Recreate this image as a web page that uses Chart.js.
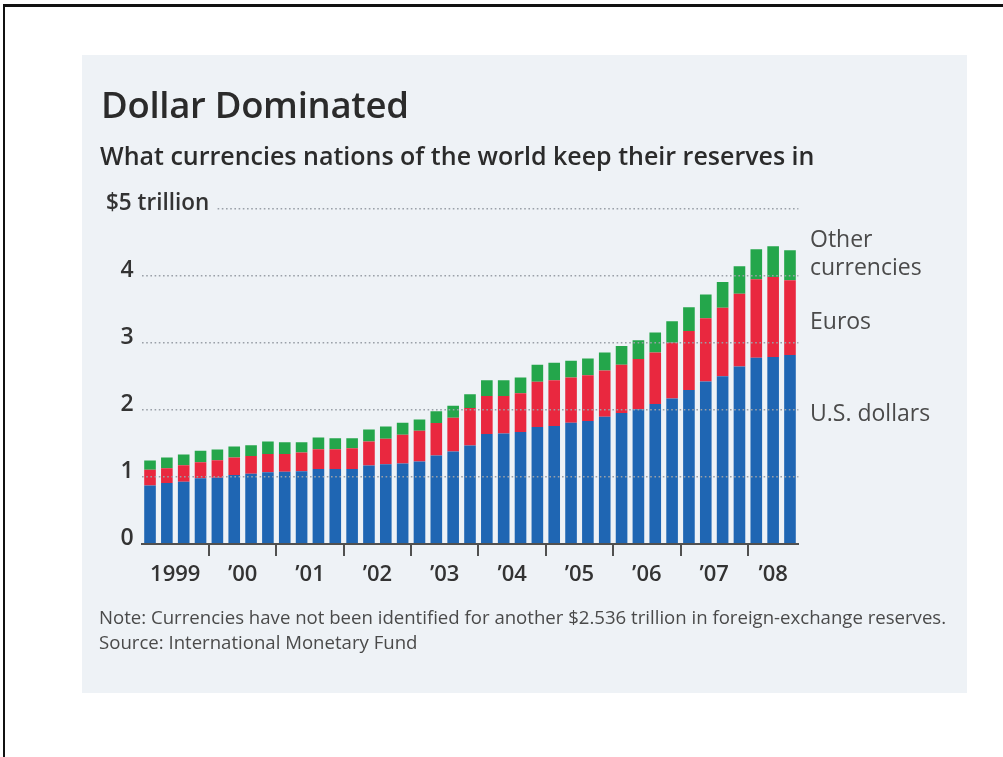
<!DOCTYPE html>
<html>
<head>
<meta charset="utf-8">
<script src="https://cdn.jsdelivr.net/npm/chart.js@4"></script>
<style>
  body { margin: 0; width: 1003px; height: 757px; background: #fff; position: relative; overflow: hidden; font-family: "Open Sans", sans-serif; }
  #frame { position: absolute; left: 3px; top: 4px; width: 1100px; height: 800px; border-top: 3px solid #111; border-left: 2px solid #111; }
  #panel { position: absolute; left: 82px; top: 55px; width: 885px; height: 638px; background: #eef2f6; }
  .t { position: absolute; white-space: nowrap; color: #2b2b2b; }
  #title { left: 101px; top: 79px; font-size: 36.5px; font-weight: 600; letter-spacing: -0.3px; }
  #sub { left: 100px; top: 138px; font-size: 25px; font-weight: 600; }
  .side { font-size: 23px; font-weight: 400; color: #4a4a4a; left: 810px; }
  .note { left: 99px; font-size: 18.6px; color: #4a4a4a; }
  canvas { position: absolute; left: 82px; top: 55px; }
</style>
</head>
<body>
<div id="frame"></div>
<div id="panel"></div>
<canvas id="chart" width="885" height="638" style="width:885px;height:638px"></canvas>
<div class="t" id="title">Dollar Dominated</div>
<div class="t" id="sub">What currencies nations of the world keep their reserves in</div>
<div class="t side" style="top:222px">Other</div>
<div class="t side" style="top:250px">currencies</div>
<div class="t side" style="top:304px">Euros</div>
<div class="t side" style="top:396px">U.S. dollars</div>
<div class="t note" style="top:604px">Note: Currencies have not been identified for another $2.536 trillion in foreign-exchange reserves.</div>
<div class="t note" style="top:629px">Source: International Monetary Fund</div>
<script>
// quarterly reserves, trillions of dollars, 1999 Q1 - 2008 Q3
const years = ['1999', '\u201900', '\u201901', '\u201902', '\u201903', '\u201904', '\u201905', '\u201906', '\u201907', '\u201908']
const quartersPerYear = [4, 4, 4, 4, 4, 4, 4, 4, 4, 3]
const dollars = [0.875, 0.91, 0.93, 0.98, 0.99, 1.03, 1.05, 1.07, 1.08, 1.085, 1.12, 1.12, 1.12, 1.17, 1.19, 1.20,
    1.23, 1.32, 1.38, 1.47, 1.64, 1.65, 1.67, 1.745, 1.76, 1.81, 1.835, 1.9, 1.955, 2.01, 2.09, 2.17,
    2.30, 2.425, 2.505, 2.65, 2.78, 2.79, 2.82]
const euros = [0.235, 0.22, 0.245, 0.24, 0.26, 0.26, 0.265, 0.275, 0.265, 0.28, 0.295, 0.295, 0.31, 0.36, 0.38, 0.43,
    0.46, 0.485, 0.505, 0.56, 0.57, 0.56, 0.58, 0.675, 0.685, 0.675, 0.685, 0.69, 0.72, 0.75, 0.77, 0.835,
    0.88, 0.945, 1.02, 1.085, 1.17, 1.195, 1.115]
const others = [0.135, 0.16, 0.16, 0.17, 0.16, 0.165, 0.16, 0.185, 0.175, 0.155, 0.175, 0.165, 0.15, 0.18, 0.185, 0.18,
    0.17, 0.175, 0.18, 0.205, 0.235, 0.235, 0.235, 0.255, 0.26, 0.25, 0.25, 0.27, 0.28, 0.28, 0.295, 0.32,
    0.355, 0.355, 0.385, 0.41, 0.45, 0.46, 0.45]
const yTicks = [0, 1, 2, 3, 4, 5]
const topLabel = '$5 trillion'

var quarters = []
years.forEach((y, i) => {
    for (var q = 1; q <= quartersPerYear[i]; q++) quarters.push(y + ' Q' + q)
})

const bg = '#eef2f6'
const axisColor = '#505050'

// year labels centred under each year's bars + the "$5 trillion" label
const extras = {
    id: 'extras',
    afterDraw(chart) {
        const ctx = chart.ctx, x = chart.scales.x, y = chart.scales.y
        ctx.save()
        ctx.fillStyle = '#333'
        ctx.font = '600 22px "Open Sans"'
        ctx.textAlign = 'center'
        ctx.textBaseline = 'alphabetic'
        var start = 0
        years.forEach((yr, i) => {
            const end = start + quartersPerYear[i] - 1
            const cx = (x.getPixelForValue(start) + x.getPixelForValue(end)) / 2
            ctx.fillText(yr, cx, chart.chartArea.bottom + 37)
            start = end + 1
        })
        // label on the top gridline
        ctx.font = '600 22.5px "Open Sans"'
        ctx.textAlign = 'left'
        const w = ctx.measureText(topLabel).width
        const py = y.getPixelForValue(5)
        ctx.fillStyle = bg
        ctx.fillRect(20, py - 6, 24 + w + 6 - 20, 10)
        ctx.fillStyle = '#333'
        ctx.fillText(topLabel, 24, py + 1)
        ctx.restore()
    }
}

new Chart(document.getElementById('chart'), {
    type: 'bar',
    data: {
        labels: quarters,
        datasets: [
            { label: 'U.S. dollars', data: dollars, backgroundColor: '#1f66b3' },
            { label: 'Euros', data: euros, backgroundColor: '#e9283f' },
            { label: 'Other currencies', data: others, backgroundColor: '#24a64b' }
        ]
    },
    options: {
        responsive: false,
        animation: false,
        events: [],
        layout: { padding: { left: 9.6, right: 168.6, top: 154, bottom: 89 } },
        plugins: { legend: { display: false }, tooltip: { enabled: false } },
        datasets: { bar: { barPercentage: 0.69, categoryPercentage: 1, borderWidth: 0 } },
        scales: {
            x: {
                stacked: true,
                afterFit: s => { s.height = 60 },
                ticks: { display: false, autoSkip: false },
                grid: {
                    offset: true,
                    drawOnChartArea: false,
                    drawTicks: true,
                    tickLength: 12,
                    lineWidth: 2,
                    color: c => (c.index > 0 && c.index % 4 === 0) ? axisColor : 'rgba(0,0,0,0)'
                },
                border: { display: true, color: axisColor, width: 2, z: 1 }
            },
            y: {
                stacked: true,
                min: 0,
                max: 5,
                afterFit: s => { s.width = 50 },
                afterBuildTicks: s => { s.ticks = yTicks.map(v => ({ value: v })) },
                ticks: {
                    padding: 8,
                    labelOffset: -6,
                    color: '#333',
                    font: { family: 'Open Sans', size: 23, weight: '600' },
                    callback: v => v === 5 ? '' : String(v)
                },
                grid: {
                    z: 1,
                    drawTicks: false,
                    lineWidth: 1.6,
                    color: c => (c.tick && c.tick.value > 0) ? '#9aa0a8' : 'rgba(0,0,0,0)'
                },
                border: { display: false, dash: [1.6, 2.6] }
            }
        }
    },
    plugins: [extras]
})
</script>
</body>
</html>
